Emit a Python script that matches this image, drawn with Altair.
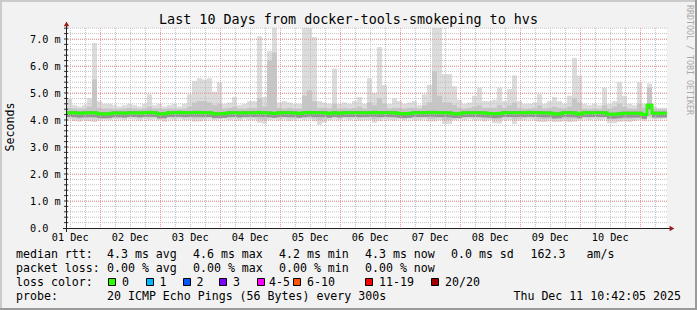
import altair as alt
import pandas as pd

# ---------------- data ----------------
# 120 bins of 2 hours each (10 days); values in milliseconds
smoke_max = [
    4.80, 4.55, 4.50, 4.55, 4.80, 6.85, 4.70, 4.60, 4.60, 4.55,
    4.50, 4.55, 4.60, 4.55, 4.50, 4.60, 4.95, 4.55, 4.60, 4.50,
    4.55, 4.60, 4.50, 4.60, 4.95, 5.45, 5.55, 5.50, 5.55, 5.05,
    5.40, 4.60, 4.65, 4.85, 4.55, 4.60, 4.70, 4.70, 7.10, 4.85,
    6.55, 7.41, 4.65, 4.70, 4.65, 4.60, 4.60, 7.41, 7.41, 7.07,
    4.70, 4.65, 4.60, 5.90, 4.60, 4.65, 4.60, 4.70, 4.85, 4.60,
    5.55, 5.00, 6.70, 5.30, 4.60, 4.80, 4.70, 4.60, 4.65, 4.70,
    4.55, 4.95, 5.30, 7.41, 7.41, 5.70, 5.70, 5.25, 4.75, 4.60,
    4.65, 4.90, 5.20, 4.70, 4.70, 4.75, 5.20, 4.70, 5.15, 5.65,
    4.70, 4.60, 4.60, 4.65, 4.95, 4.60, 4.70, 4.85, 4.70, 4.60,
    4.90, 6.30, 5.65, 4.60, 4.55, 4.60, 4.55, 5.20, 4.60, 4.70,
    5.40, 4.90, 4.60, 4.55, 5.40, 4.60, 5.35, 4.50, 4.45, 4.45,
]
smoke_hi = [
    4.45, 4.42, 4.40, 4.42, 4.50, 5.50, 4.45, 4.42, 4.42, 4.40,
    4.40, 4.42, 4.45, 4.42, 4.40, 4.42, 4.50, 4.42, 4.42, 4.40,
    4.42, 4.42, 4.40, 4.42, 4.50, 4.65, 4.70, 4.70, 4.65, 4.55,
    4.60, 4.42, 4.45, 4.50, 4.42, 4.42, 4.45, 4.45, 4.80, 4.50,
    6.20, 6.50, 4.45, 4.42, 4.45, 4.42, 4.42, 4.90, 5.10, 4.70,
    4.45, 4.45, 4.42, 4.60, 4.42, 4.45, 4.42, 4.45, 4.50, 4.42,
    4.65, 4.55, 4.80, 4.60, 4.42, 4.45, 4.45, 4.42, 4.45, 4.45,
    4.42, 4.55, 4.65, 5.80, 4.90, 4.65, 4.65, 4.55, 4.45, 4.42,
    4.45, 4.50, 4.55, 4.45, 4.45, 4.45, 4.55, 4.45, 4.55, 4.65,
    4.45, 4.42, 4.42, 4.45, 4.55, 4.42, 4.45, 4.50, 4.45, 4.42,
    4.50, 4.80, 4.65, 4.42, 4.40, 4.42, 4.40, 4.55, 4.42, 4.50,
    4.60, 4.50, 4.42, 4.40, 4.60, 4.45, 5.20, 4.40, 4.38, 4.38,
]
smoke_lo = [
    4.10, 4.06, 4.05, 4.08, 4.06, 4.05, 4.08, 4.10, 4.09, 4.10,
    4.10, 4.08, 4.10, 4.10, 4.08, 4.10, 4.09, 4.10, 4.06, 4.05,
    4.10, 4.09, 4.10, 4.08, 4.09, 4.05, 4.06, 4.08, 4.10, 4.08,
    4.10, 4.10, 4.08, 4.10, 4.07, 4.10, 4.09, 4.09, 4.02, 4.00,
    4.08, 4.09, 4.07, 4.10, 4.06, 4.09, 4.10, 4.08, 4.09, 4.05,
    4.00, 4.03, 4.08, 4.10, 4.09, 4.10, 4.09, 4.10, 4.07, 4.09,
    4.09, 4.03, 4.06, 4.10, 4.09, 4.07, 4.10, 4.08, 4.10, 4.09,
    4.09, 4.10, 4.05, 4.05, 4.08, 4.00, 4.00, 4.08, 4.10, 4.09,
    4.10, 4.09, 4.08, 4.05, 4.09, 4.02, 4.02, 4.09, 4.09, 4.02,
    4.06, 4.09, 4.10, 4.09, 4.04, 4.03, 4.05, 4.03, 4.04, 4.05,
    4.03, 4.05, 4.07, 4.10, 4.09, 4.10, 4.09, 4.10, 4.02, 4.02,
    4.04, 4.05, 4.04, 4.06, 4.08, 4.06, 4.12, 4.10, 4.10, 4.12,
]
smoke_min = [
    4.02, 3.96, 3.94, 4.00, 3.95, 3.93, 3.98, 4.02, 4.00, 4.03,
    4.02, 4.00, 4.03, 4.02, 3.98, 4.03, 4.00, 4.02, 4.00, 3.94,
    4.02, 4.00, 4.03, 4.00, 4.00, 3.94, 3.95, 4.00, 4.02, 4.00,
    4.02, 4.03, 4.00, 4.02, 3.98, 4.03, 4.00, 4.00, 3.90, 3.86,
    4.00, 4.02, 3.98, 4.02, 3.97, 4.00, 4.03, 4.00, 4.02, 3.95,
    3.82, 3.90, 4.00, 4.02, 4.00, 4.03, 4.00, 4.02, 3.98, 4.00,
    4.00, 3.90, 3.96, 4.02, 4.00, 3.98, 4.02, 4.00, 4.03, 4.00,
    4.00, 4.02, 3.95, 3.95, 4.00, 3.85, 3.85, 4.00, 4.02, 4.00,
    4.03, 4.00, 4.00, 3.95, 4.00, 3.88, 3.87, 4.00, 4.00, 3.85,
    3.97, 4.00, 4.02, 4.00, 3.93, 3.92, 3.95, 3.92, 3.93, 3.95,
    3.92, 3.94, 3.98, 4.02, 4.00, 4.02, 4.00, 4.02, 3.88, 3.88,
    3.93, 3.95, 3.93, 3.96, 4.00, 3.97, 4.05, 4.02, 4.03, 4.05,
]
median_rtt = [
    4.27, 4.27, 4.25, 4.26, 4.27, 4.27, 4.23, 4.22, 4.23, 4.26,
    4.26, 4.25, 4.27, 4.27, 4.26, 4.27, 4.28, 4.27, 4.22, 4.23,
    4.27, 4.27, 4.28, 4.27, 4.27, 4.28, 4.28, 4.27, 4.27, 4.23,
    4.23, 4.24, 4.27, 4.27, 4.26, 4.27, 4.27, 4.27, 4.28, 4.27,
    4.26, 4.24, 4.27, 4.27, 4.27, 4.26, 4.24, 4.27, 4.28, 4.27,
    4.27, 4.27, 4.24, 4.27, 4.25, 4.27, 4.27, 4.27, 4.27, 4.27,
    4.27, 4.28, 4.27, 4.27, 4.27, 4.27, 4.24, 4.23, 4.24, 4.27,
    4.27, 4.27, 4.28, 4.28, 4.27, 4.27, 4.26, 4.23, 4.23, 4.27,
    4.27, 4.27, 4.27, 4.26, 4.24, 4.23, 4.24, 4.27, 4.27, 4.27,
    4.27, 4.27, 4.28, 4.27, 4.27, 4.26, 4.26, 4.22, 4.23, 4.27,
    4.27, 4.26, 4.22, 4.27, 4.27, 4.27, 4.27, 4.27, 4.21, 4.21,
    4.23, 4.25, 4.25, 4.25, 4.25, 4.20, 4.55, 4.25, 4.25, 4.25,
]
day_labels = ["01 Dec", "02 Dec", "03 Dec", "04 Dec", "05 Dec",
              "06 Dec", "07 Dec", "08 Dec", "09 Dec", "10 Dec"]
y_label_values = [0, 1, 2, 3, 4, 5, 6, 7]
y_label_texts = ["0.0", "1.0 m", "2.0 m", "3.0 m", "4.0 m", "5.0 m", "6.0 m", "7.0 m"]
loss_labels = ["0", "1", "2", "3", "4-5", "6-10", "11-19", "20/20"]
loss_colors = ["#26ff00", "#00b8ff", "#0059ff", "#7e00ff",
               "#ff00ff", "#ff5500", "#ff0000", "#a00000"]

title_text = "Last 10 Days from docker-tools-smokeping to hvs"
row1 = [(16, "median rtt:"), (107, "4.3 ms avg"), (193, "4.6 ms max"),
        (279, "4.2 ms min"), (365, "4.3 ms now"), (451, "0.0 ms sd"),
        (530.5, "162.3"), (586.5, "am/s")]
row2 = [(16, "packet loss:"), (107, "0.00 % avg"), (193, "0.00 % max"),
        (279, "0.00 % min"), (365, "0.00 % now")]
row4 = [(16, "probe:"), (107, "20 ICMP Echo Pings (56 Bytes) every 300s")]
date_text = "Thu Dec 11 10:42:05 2025"
watermark = "RRDTOOL / TOBI OETIKER"

# ---------------- layout constants ----------------
MONO = "DejaVu Sans Mono"
FS = 11.6        # legend / unit font
FS_AXIS = 10.2   # axis label font
OX, OY = 67, 28          # plot origin inside the 697x310 canvas
W, H = 600, 200
SPAN_H = 240.0           # 10 days in hours
FIRST_MIDNIGHT = 13.2986 # hours from start (Dec 1 10:42:05) to Dec 2 00:00
BIN = 2.0

h0 = [i * BIN for i in range(len(median_rtt))]
smoke = pd.DataFrame({
    "h0": h0, "h1": [h + BIN for h in h0],
    "mn": smoke_min, "lo": smoke_lo, "hi": smoke_hi, "mx": smoke_max,
    "med": median_rtt,
})
medline = pd.DataFrame({"h": h0 + [SPAN_H], "v": median_rtt + [median_rtt[-1]]})

label_hours = [FIRST_MIDNIGHT - 12 + 24 * k for k in range(10)]
minor_hours = [FIRST_MIDNIGHT - 12 + 6 * k for k in range(40)]
major_hours = [FIRST_MIDNIGHT + 24 * k for k in range(10)]
minor_ms = [round(0.2 * k, 1) for k in range(1, 38)]
major_ms = [1, 2, 3, 4, 5, 6, 7]

xs = alt.Scale(domain=[0, SPAN_H], nice=False, zero=False)
ys = alt.Scale(domain=[0, 7.407], nice=False, zero=False)

one = pd.DataFrame({"d": [0]})


def txt(s, ax, ay, size=FS, align="left", baseline="alphabetic", color="#000000", angle=0):
    return alt.Chart(one).mark_text(
        text=s, align=align, baseline=baseline, font=MONO, fontSize=size,
        color=color, angle=angle,
    ).encode(x=alt.value(ax - OX), y=alt.value(ay - OY))


def box(x0, y0, x1, y1, fill, stroke=None):
    kw = dict(fill=fill)
    if stroke is not None:
        kw.update(stroke=stroke, strokeWidth=1)
    else:
        kw.update(strokeWidth=0)
    return alt.Chart(one).mark_rect(**kw).encode(
        x=alt.value(x0 - OX), x2=alt.value(x1 - OX),
        y=alt.value(y0 - OY), y2=alt.value(y1 - OY))


layers = []
# frame (3D border)
layers += [box(0, 0, 697, 2, "#cbcbcb"), box(0, 0, 2, 310, "#cbcbcb"),
           box(695, 0, 697, 310, "#9a9a9a"), box(0, 308, 697, 310, "#9a9a9a")]

# smoke
light = alt.Chart(smoke).mark_rect(color="#dcdcdc").encode(
    x=alt.X("h0:Q", scale=xs, axis=None), x2="h1:Q",
    y=alt.Y("mn:Q", scale=ys, axis=None), y2="mx:Q")
mid = alt.Chart(smoke).mark_rect(color="#c6c6c6").encode(
    x=alt.X("h0:Q", scale=xs, axis=None), x2="h1:Q",
    y=alt.Y("lo:Q", scale=ys, axis=None), y2="hi:Q")
core = alt.Chart(smoke).transform_calculate(
    clo="datum.med - 0.16", chi="datum.med + 0.06"
).mark_rect(color="#949494").encode(
    x=alt.X("h0:Q", scale=xs, axis=None), x2="h1:Q",
    y=alt.Y("clo:Q", scale=ys, axis=None), y2="chi:Q")
layers += [light, mid, core]

# grid
GRAY, RED = "#c2c2c2", "#f09a9a"
vminor = alt.Chart(pd.DataFrame({"h": minor_hours})).mark_rule(
    color=GRAY, strokeDash=[1, 1], strokeWidth=1, xOffset=0.25).encode(
    x=alt.X("h:Q", scale=xs, axis=None))
hminor = alt.Chart(pd.DataFrame({"v": minor_ms})).mark_rule(
    color=GRAY, strokeDash=[1, 1], strokeWidth=1).encode(
    y=alt.Y("v:Q", scale=ys, axis=None))
vmajor = alt.Chart(pd.DataFrame({"h": major_hours})).mark_rule(
    color=RED, strokeDash=[1, 1], strokeWidth=1, xOffset=0.25).encode(
    x=alt.X("h:Q", scale=xs, axis=None))
hmajor = alt.Chart(pd.DataFrame({"v": major_ms})).mark_rule(
    color=RED, strokeDash=[1, 1], strokeWidth=1, yOffset=0.5).encode(
    y=alt.Y("v:Q", scale=ys, axis=None))
yticks = alt.Chart(pd.DataFrame({"v": minor_ms})).mark_rule(
    color="#333333", strokeWidth=1).encode(
    y=alt.Y("v:Q", scale=ys, axis=None), x=alt.value(-3), x2=alt.value(1))
layers += [vminor, hminor, vmajor, hmajor, yticks]

# median line
green = alt.Chart(medline).mark_line(
    color="#26ff00", strokeWidth=3, interpolate="step-after").encode(
    x=alt.X("h:Q", scale=xs, axis=None), y=alt.Y("v:Q", scale=ys, axis=None))
layers.append(green)

# axis lines and arrows
axis_y = alt.Chart(one).mark_rule(color="#202020", strokeWidth=1).encode(
    x=alt.value(-0.5), y=alt.value(-6), y2=alt.value(204))
axis_x = alt.Chart(one).mark_rule(color="#202020", strokeWidth=1).encode(
    x=alt.value(-4), x2=alt.value(604), y=alt.value(200.5))
arrow_y = alt.Chart(one).mark_point(shape="triangle-up", filled=True, size=30,
                                    color="#9b1b1b", opacity=1).encode(
    x=alt.value(-0.5), y=alt.value(-4))
arrow_x = alt.Chart(one).mark_point(shape="triangle-right", filled=True, size=30,
                                    color="#9b1b1b", opacity=1).encode(
    x=alt.value(605), y=alt.value(200.5))
layers += [axis_y, axis_x, arrow_y, arrow_x]

# axis labels (through the scales)
xlab = alt.Chart(pd.DataFrame({"h": label_hours, "t": day_labels})).mark_text(
    font=MONO, fontSize=FS_AXIS, color="#000000", align="center", baseline="alphabetic").encode(
    x=alt.X("h:Q", scale=xs, axis=None), y=alt.value(241 - OY), text="t:N")
ylab = alt.Chart(pd.DataFrame({"v": y_label_values, "t": y_label_texts})).mark_text(
    font=MONO, fontSize=FS_AXIS, color="#000000", align="left", baseline="alphabetic", dy=3.8).encode(
    y=alt.Y("v:Q", scale=ys, axis=None), x=alt.value(30 - OX), text="t:N")
layers += [xlab, ylab]

# texts
layers.append(txt(title_text, 348.5, 24, size=13.4, align="center"))
layers.append(txt("Seconds", 11, 127, align="center", baseline="middle", angle=270))
layers.append(txt(watermark, 688.5, 5, size=8.3, baseline="middle", color="#a8a8a8", angle=90))
for x, s in row1:
    layers.append(txt(s, x, 257.7))
for x, s in row2:
    layers.append(txt(s, x, 271.8))
layers.append(txt("loss color:", 16, 285.9))
swatch_x = [108, 146, 183, 219, 257, 293, 365, 431]
label_x = [122, 159.5, 196.5, 233, 269, 307, 379, 445]
for sx, lx, lab, col in zip(swatch_x, label_x, loss_labels, loss_colors):
    layers.append(box(sx + 0.5, 278.5, sx + 7.5, 285.5, col, stroke="#000000"))
    layers.append(txt(lab, lx, 285.9))
for x, s in row4:
    layers.append(txt(s, x, 300))
layers.append(txt(date_text, 681, 300, align="right"))

chart = alt.layer(*layers).properties(
    width=W, height=H, background="#f2f2f2",
    padding={"left": OX, "top": OY, "right": 697 - OX - W, "bottom": 310 - OY - H},
    autosize=alt.AutoSizeParams(type="none"),
).configure_view(stroke=None, fill="#ffffff")

chart.save("out.html", embed_options={"renderer": "svg", "actions": False})
